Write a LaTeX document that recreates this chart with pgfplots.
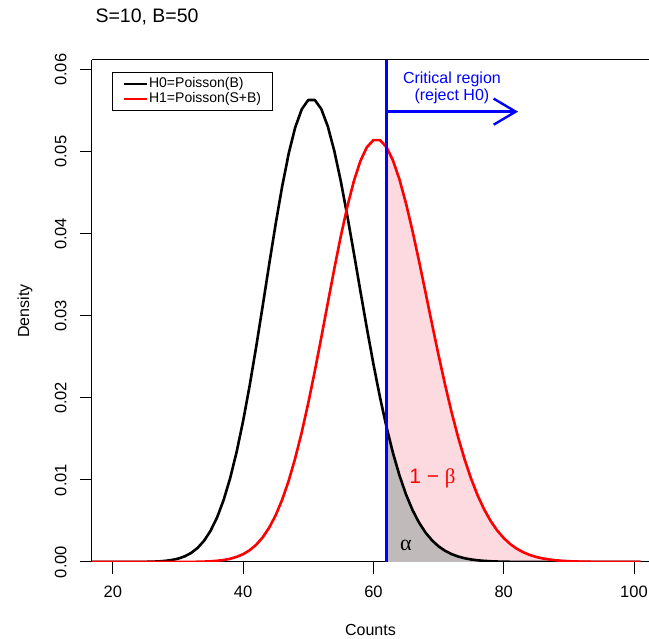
\documentclass[border=0pt]{standalone}
\usepackage{pgfplots}
\pgfplotsset{compat=1.18}
\usepackage{pgfplotstable}
\usepackage{fontspec}
\setmainfont{Liberation Sans}
\newfontfamily\symb{Liberation Serif}
\usetikzlibrary{arrows.meta}

\pgfplotstableread{
x h0 h1
16 0 0
17 1.2e-8 0
18 3.8e-8 0
19 1.09e-7 0
20 3.02e-7 0
21 7.56e-7 0
22 1.8003e-6 0
23 4.0916e-6 0
24 8.8947e-6 0
25 1.8531e-5 0
26 3.7061e-5 1.6e-7
27 7.1271e-5 3.7e-7
28 1.3198e-4 8.2e-7
29 2.3568e-4 1.76e-6
30 4.0634e-4 3.65e-6
31 6.7723e-4 7.30e-6
32 1.0923e-3 1.4126e-5
33 1.7067e-3 2.6487e-5
34 2.5859e-3 4.8158e-5
35 3.8028e-3 8.4985e-5
36 5.4325e-3 1.4569e-4
37 7.5452e-3 2.4281e-4
38 1.0196e-2 3.9374e-4
39 1.3416e-2 6.2170e-4
40 1.7200e-2 9.5646e-4
41 2.1500e-2 1.4347e-3
42 2.6220e-2 2.0995e-3
43 3.1214e-2 2.9993e-3
44 3.6295e-2 4.1850e-3
45 4.1244e-2 5.7068e-3
46 4.5827e-2 7.6090e-3
47 4.9812e-2 9.9248e-3
48 5.2991e-2 1.2670e-2
49 5.5199e-2 1.5837e-2
50 5.6325e-2 1.9393e-2
51 5.6325e-2 2.3271e-2
52 5.5221e-2 2.7378e-2
53 5.3097e-2 3.1590e-2
54 5.0091e-2 3.5762e-2
55 4.6381e-2 3.9736e-2
56 4.2165e-2 4.3348e-2
57 3.7647e-2 4.6445e-2
58 3.3024e-2 4.8889e-2
59 2.8469e-2 5.0575e-2
60 2.4126e-2 5.1432e-2
61 2.0105e-2 5.1432e-2
62 1.6480e-2 5.0589e-2
63 1.3290e-2 4.8957e-2
64 1.0548e-2 4.6626e-2
65 8.2406e-3 4.3712e-2
66 6.3389e-3 4.0349e-2
67 4.8022e-3 3.6681e-2
68 3.5837e-3 3.2849e-2
69 2.6351e-3 2.8985e-2
70 1.9095e-3 2.5204e-2
71 1.3639e-3 2.1604e-2
72 9.6053e-4 1.8257e-2
73 6.6703e-4 1.5214e-2
74 4.5687e-4 1.2505e-2
75 3.0870e-4 1.0139e-2
76 2.0580e-4 8.1112e-3
77 1.3540e-4 6.4036e-3
78 8.7920e-5 4.9898e-3
79 5.6359e-5 3.8383e-3
80 3.5670e-5 2.9152e-3
81 2.2294e-5 2.1864e-3
82 1.3762e-5 1.6196e-3
83 8.3913e-6 1.1851e-3
84 5.0550e-6 8.5667e-4
85 3.0089e-6 6.1191e-4
86 1.7699e-6 4.3194e-4
87 1.03e-6 3.0135e-4
88 5.9e-7 2.0783e-4
89 3.35e-7 1.4170e-4
90 1.88e-7 9.5528e-5
91 1.05e-7 6.3685e-5
92 5.8e-8 4.1991e-5
93 3.1e-8 2.7385e-5
94 1.7e-8 1.7668e-5
95 9e-9 1.1277e-5
96 4.6e-9 7.1226e-6
97 2.4e-9 4.4516e-6
98 1.2e-9 2.7536e-6
99 6e-10 1.6859e-6
100 3e-10 1.0217e-6
101 1.5e-10 6.13e-7
}\pois

\definecolor{pinkfill}{RGB}{253,218,224}
\definecolor{greyfill}{RGB}{192,186,187}

\begin{document}
\begin{tikzpicture}
\begin{axis}[
  at={(0,0)}, anchor=south west,
  scale only axis, width=557pt, height=502pt,
  xmin=16.8, xmax=102.3, ymin=0, ymax=0.0612,
  axis x line*=box, axis y line*=left,
  axis line style={-, line width=1pt},
  xtick={20,40,60,80,100},
  ytick={0,0.01,0.02,0.03,0.04,0.05,0.06},
  xtick pos=bottom, ytick pos=left,
  tick align=outside, major tick length=12pt,
  every tick/.style={black, line width=1pt},
  scaled y ticks=false,
  /pgf/number format/assume math mode=true,
  tick label style={font=\fontsize{16.5}{19}\selectfont},
  xticklabel style={yshift=-8pt},
  yticklabel style={/pgf/number format/fixed, /pgf/number format/fixed zerofill, /pgf/number format/precision=2, rotate=90, anchor=south, yshift=10pt},
  xlabel={Counts}, ylabel={Density},
  every axis x label/.style={at={(rel axis cs:0.5,0)}, anchor=center, yshift=-68pt, font=\fontsize{16}{19}\selectfont},
  every axis y label/.style={at={(rel axis cs:-0.1203,0.5)}, anchor=center, rotate=90, font=\fontsize{16}{19}\selectfont},
  legend style={at={(rel axis cs:0.0359,0.976)}, anchor=north west, draw=black, line width=0.8pt,
    font=\fontsize{14}{15.6}\selectfont, inner xsep=10.5pt, inner ysep=3.4pt, cells={anchor=west},
    nodes={inner sep=1pt, text height=10.5pt, text depth=3.1pt}},
  legend image code/.code={\draw[#1, line width=2.2pt] (0pt,0pt) -- (23pt,0pt);},
  clip mode=individual,
]
\addplot[fill=pinkfill, draw=none, forget plot, restrict x to domain=62:101] table[x=x, y=h1] {\pois} \closedcycle;
\addplot[fill=greyfill, draw=none, forget plot, restrict x to domain=62:101] table[x=x, y=h0] {\pois} \closedcycle;
\addplot[black, line width=2.6pt, line join=round] table[x=x, y=h0] {\pois};
\addlegendentry{H0=Poisson(B)}
\addplot[red, line width=2.6pt, line join=round] table[x=x, y=h1] {\pois};
\addlegendentry{H1=Poisson(S+B)}
\addplot[blue, line width=2.4pt, forget plot] coordinates {(62,0) (62,0.0612)};
\addplot[blue, line width=2.4pt, forget plot, -{Straight Barb[length=22pt, width=26pt]}] coordinates {(62,0.0549) (82.2,0.0549)};
\node[blue, align=center, font=\fontsize{16}{16.7}\selectfont] at (axis cs:72.05,0.0578) {Critical region\\(reject H0)};
\node[red, font=\fontsize{21}{24}\selectfont] at (axis cs:69.07,0.01024) {1 − {\symb β}};
\node[black, font=\fontsize{22}{24}\selectfont\symb] at (axis cs:65.0,0.00207) {α};
\node[anchor=base west, font=\fontsize{19.5}{22}\selectfont] at (rel axis cs:0,1) [yshift=37pt] {S=10, B=50};
\end{axis}
\pgfresetboundingbox
\path[use as bounding box] (-92pt,-77pt) rectangle (557pt,562pt);
\end{tikzpicture}
\end{document}
